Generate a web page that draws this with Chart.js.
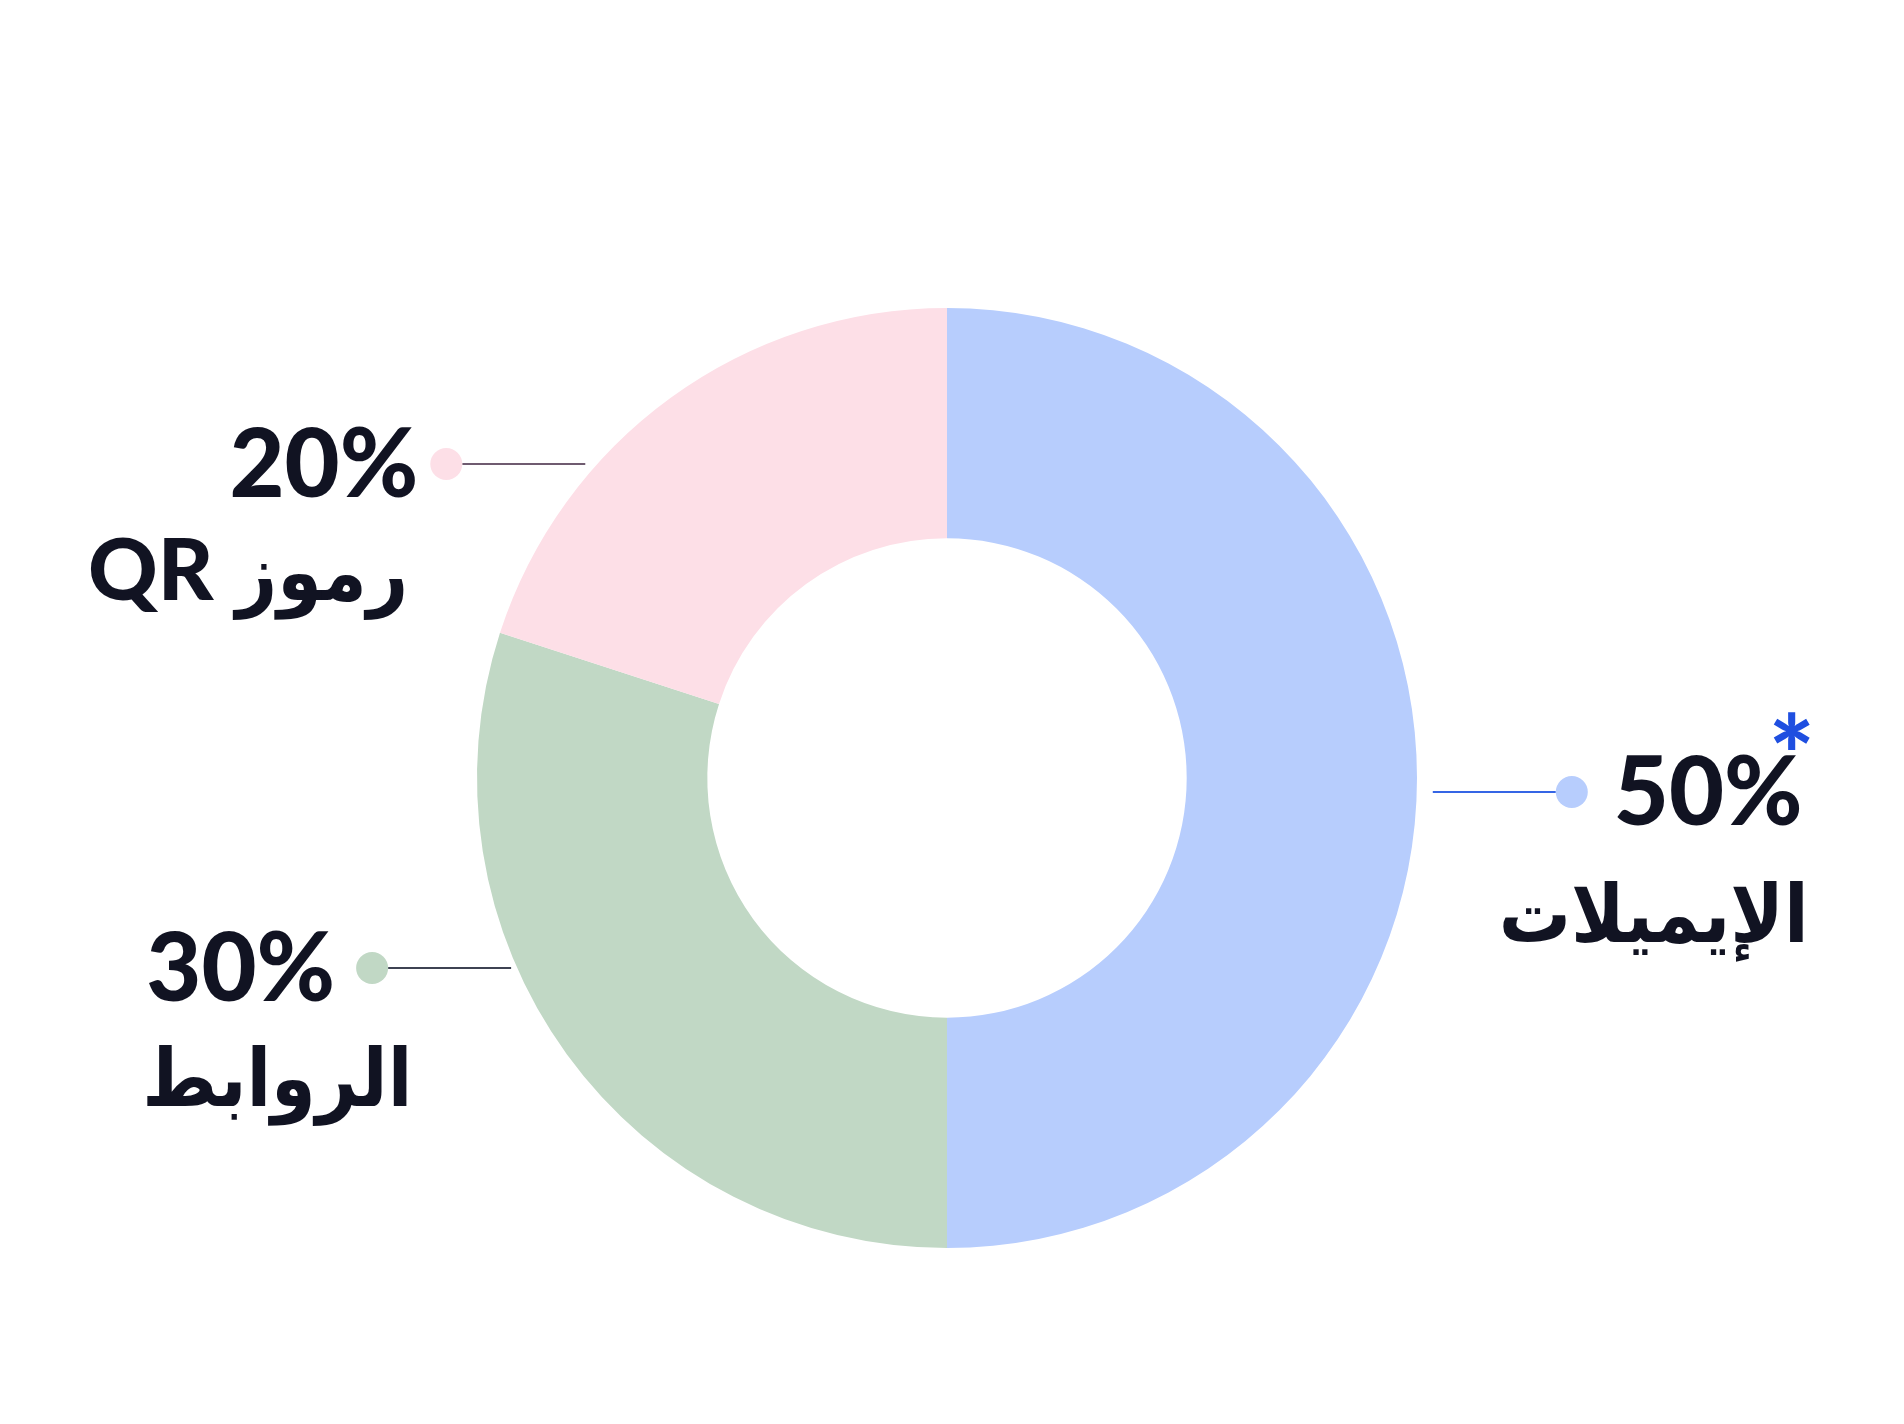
<!DOCTYPE html>
<html>
<head>
<meta charset="utf-8">
<script src="https://cdn.jsdelivr.net/npm/chart.js@4.4.1/dist/chart.umd.min.js"></script>
<style>
html, body { margin: 0; padding: 0; background: #fff; }
#wrap { width: 1904px; height: 1424px; position: relative; }
</style>
</head>
<body>
<div id="wrap"><canvas id="chart_canvas"></canvas></div>
<script>
// données
const labels = ['الإيميلات', 'الروابط', 'رموز QR']
const values = [50, 30, 20]
const colors = ['#b7cdfd', '#c1d8c5', '#fddfe7']
const lineColors = ['#3565e5', '#3d4252', '#6f5b70']
const starred = [true, false, false]

const textColor = '#111322'
const latinFont = "Lato, 'DejaVu Sans', sans-serif"
const arabicFont = "'DejaVu Sans Condensed', 'DejaVu Sans', sans-serif"

// dessine un libellé mot par mot (de droite à gauche), taille selon l'écriture
function drawName(ctx, text, x, y, align, opts) {
    const words = text.split(' ')
    const parts = words.map(wd => {
        const latin = /^[A-Za-z0-9]+$/.test(wd)
        const font = latin
            ? opts.latinNameWeight + ' ' + opts.latinNameSize + 'px ' + latinFont
            : opts.nameWeight + ' ' + opts.arabicNameSize + 'px ' + arabicFont
        ctx.font = font
        return {wd, font, w: ctx.measureText(wd).width}
    })
    const space = opts.wordGap
    const total = parts.reduce((s, p) => s + p.w, 0) + space * (parts.length - 1)
    let right = align === 'left' ? x + total : x
    ctx.textAlign = 'right'
    parts.forEach(p => {
        ctx.font = p.font
        ctx.fillText(p.wd, right, y)
        right -= p.w + space
    })
}

// étiquettes avec trait et point
const calloutPlugin = {
    id: 'callouts',
    afterDraw(chart, args, opts) {
        const {ctx} = chart
        const meta = chart.getDatasetMeta(0)
        meta.data.forEach((arc, i) => {
            const o = opts.items[i]
            const r = arc.outerRadius
            const y = arc.y + o.dy
            const edge = Math.sqrt(r * r - o.dy * o.dy)
            const dir = o.side === 'right' ? 1 : -1
            const near = arc.x + dir * (edge + o.gap)
            const far = near + dir * opts.lineLength
            const dotX = far + dir * opts.dotRadius

            ctx.save()
            ctx.strokeStyle = lineColors[i]
            ctx.lineWidth = 2
            ctx.beginPath()
            ctx.moveTo(near, y)
            ctx.lineTo(far, y)
            ctx.stroke()

            ctx.fillStyle = colors[i]
            ctx.beginPath()
            ctx.arc(dotX, y, opts.dotRadius, 0, Math.PI * 2)
            ctx.fill()

            // pourcentage
            const pct = values[i] + '%'
            ctx.font = opts.pctWeight + ' ' + opts.pctSize + 'px ' + latinFont
            ctx.fillStyle = textColor
            ctx.textBaseline = 'alphabetic'
            const w = ctx.measureText(pct).width
            let pctLeft
            if (dir < 0) {
                pctLeft = dotX - opts.dotRadius - o.textGap - w
            } else {
                pctLeft = dotX + opts.dotRadius + o.textGap
            }
            ctx.textAlign = 'left'
            const base = y + opts.pctBaseline
            ctx.fillText(pct, pctLeft, base)

            if (starred[i]) {
                ctx.fillStyle = '#1f4fe0'
                ctx.font = opts.pctWeight + ' ' + opts.starSize + 'px ' + latinFont
                ctx.textAlign = 'right'
                ctx.fillText('*', pctLeft + w + opts.starDx, base - opts.starRise)
            }

            // catégorie
            ctx.fillStyle = textColor
            if (o.nameAlign === 'left') {
                drawName(ctx, labels[i], pctLeft + o.nameDx, y + o.nameDy, 'left', opts)
            } else {
                drawName(ctx, labels[i], pctLeft + w + o.nameDx, y + o.nameDy, 'right', opts)
            }
            ctx.restore()
        })
    }
}

const ctx = document.getElementById('chart_canvas').getContext('2d')

const config = {
    type: 'doughnut',
    data: {
        labels: labels,
        datasets: [{
            data: values,
            backgroundColor: colors,
            borderWidth: 0,
            hoverOffset: 0
        }]
    },
    options: {
        responsive: true,
        maintainAspectRatio: false,
        animation: false,
        cutout: '51%',
        layout: {
            padding: { top: 308, bottom: 176, left: 0, right: 10 }
        },
        plugins: {
            legend: { display: false },
            tooltip: { enabled: false },
            callouts: {
                lineLength: 123,
                dotRadius: 16,
                pctSize: 95,
                pctWeight: 900,
                pctBaseline: 33,
                nameWeight: 'bold',
                latinNameWeight: 900,
                latinNameSize: 86,
                arabicNameSize: 80,
                wordGap: 22,
                starSize: 108,
                starRise: 30,
                starDx: 12,
                items: [
                    { side: 'right', dy: 14, gap: 16, textGap: 26, nameAlign: 'right', nameDx: 6, nameDy: 150 },
                    { side: 'left', dy: 190, gap: 6, textGap: 21, nameAlign: 'left', nameDx: -4, nameDy: 138 },
                    { side: 'left', dy: -314, gap: 12, textGap: 12, nameAlign: 'right', nameDx: -10, nameDy: 136 }
                ]
            }
        }
    },
    plugins: [calloutPlugin]
}

const myChart = new Chart(ctx, config)
</script>
</body>
</html>
